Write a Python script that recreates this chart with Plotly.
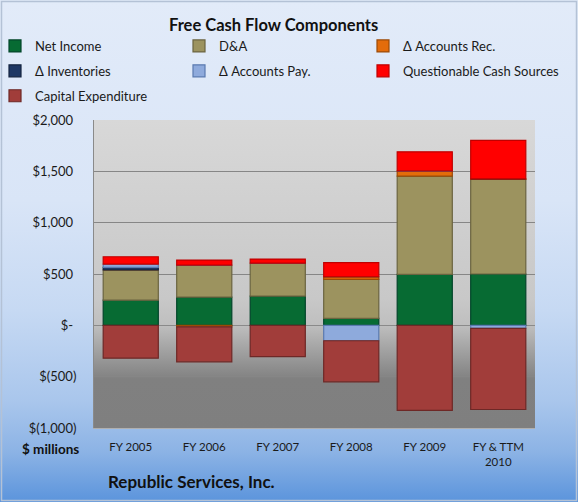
import base64
import plotly.graph_objects as go

# ---------------- data ($ millions) ----------------
categories = ["FY 2005", "FY 2006", "FY 2007", "FY 2008", "FY 2009", "FY & TTM<br>2010"]
net_income = [245, 275, 285, 68, 497, 500]
d_and_a = [295, 312, 320, 380, 957, 922]
accounts_rec = [0, -15, 0, 25, 51, 5]
inventories = [25, 0, 0, 0, 0, 0]
accounts_pay = [32, 0, 0, -150, 0, -30]
questionable = [71, 49, 40, 137, 185, 375]
capex = [-320, -340, -305, -400, -828, -790]

y_tickvals = [2000, 1500, 1000, 500, 0, -500, -1000]
y_ticktext = ["$2,000\u00a0", "$1,500\u00a0", "$1,000\u00a0", "$500\u00a0", "$-\u00a0", "$(500)", "$(1,000)"]

W, H = 578, 502
L, R, T, B = 94, 535, 120, 428  # plot area in pixels
PW, PH = R - L, B - T
FONT = "Lato, Carlito, Calibri, sans-serif"


def px(x):
    return (x - L) / PW


def py(y):
    return (B - y) / PH


def svg_uri(w, h, stops):
    st = "".join(f'<stop offset="{o}" stop-color="{c}"/>' for o, c in stops)
    svg = (f'<svg xmlns="http://www.w3.org/2000/svg" width="{w}" height="{h}" '
           f'viewBox="0 0 {w} {h}" preserveAspectRatio="none">'
           f'<defs><linearGradient id="g" x1="0" y1="0" x2="0" y2="1">{st}</linearGradient></defs>'
           f'<rect x="0" y="0" width="{w}" height="{h}" fill="url(#g)"/></svg>')
    return "data:image/svg+xml;base64," + base64.b64encode(svg.encode()).decode()


paper_bg = svg_uri(W, H, [(0, "#e2ebf9"), (0.40, "#d9e5f7"), (0.62, "#c6d9f3"),
                          (0.80, "#a9c6ec"), (0.90, "#8cb3e5"), (1, "#5b94dc")])
plot_bg = svg_uri(PW, PH, [(0, "#d8d8d8"), (0.58, "#c8c8c8"), (0.665, "#bfbfbf"),
                           (0.83, "#858585"), (0.84, "#808080"), (1, "#7f7f7f")])

series = [
    ("Net Income", net_income, "#076b33", "#03452a", "legend"),
    ("D&A", d_and_a, "#9c935f", "#6b6440", "legend2"),
    ("\u0394 Accounts Rec.", accounts_rec, "#e46c0a", "#9c4a06", "legend3"),
    ("\u0394 Inventories", inventories, "#1f3864", "#142440", "legend"),
    ("\u0394 Accounts Pay.", accounts_pay, "#8eaadc", "#5a7ab0", "legend2"),
    ("Questionable Cash Sources", questionable, "#ff0000", "#c00000", "legend3"),
    ("Capital Expenditure", capex, "#a13d3a", "#6e2826", "legend"),
]

fig = go.Figure()
for i, (name, vals, col, lcol, lg) in enumerate(series):
    fig.add_trace(go.Bar(
        x=categories, y=vals, name=name, legend=lg, legendgroup=f"g{i}",
        marker=dict(color=col, line=dict(color=lcol, width=1.2)),
    ))

legend_common = dict(
    orientation="v", xanchor="left", yanchor="top", bgcolor="rgba(0,0,0,0)",
    font=dict(family=FONT, size=13, color="#1a1a1a"), traceorder="grouped",
    tracegroupgap=5, itemwidth=30,
)

fig.update_layout(
    width=W, height=H,
    margin=dict(l=L, r=W - R, t=T, b=H - B, pad=0, autoexpand=False),
    paper_bgcolor="#dfe9f9", plot_bgcolor="rgba(0,0,0,0)",
    barmode="relative", bargap=0.25,
    showlegend=True,
    legend=dict(x=px(-5), y=py(31), **legend_common),
    legend2=dict(x=px(179), y=py(31), **legend_common),
    legend3=dict(x=px(363), y=py(31), **legend_common),
    xaxis=dict(
        type="category", showgrid=False, ticks="", ticklabelstandoff=8,
        tickfont=dict(family=FONT, size=11.5, color="#1a1a1a"),
        showline=True, linecolor="#b0b0b0", linewidth=1,
    ),
    yaxis=dict(
        range=[-1000, 2000], tickvals=y_tickvals, ticktext=y_ticktext,
        tickfont=dict(family=FONT, size=13, color="#1a1a1a"),
        ticks="", ticklabelstandoff=14,
        showgrid=True, gridcolor="#868686", gridwidth=1,
        zeroline=True, zerolinecolor="#8a8a8a", zerolinewidth=1,
        showline=True, linecolor="#8a8a8a", linewidth=1,
    ),
    images=[
        dict(source=paper_bg, xref="paper", yref="paper", x=px(0), y=py(0),
             sizex=W / PW, sizey=H / PH, xanchor="left", yanchor="top",
             sizing="stretch", layer="below"),
        dict(source=plot_bg, xref="paper", yref="paper", x=0, y=1,
             sizex=1, sizey=1, xanchor="left", yanchor="top",
             sizing="stretch", layer="below"),
    ],
    shapes=[
        dict(type="rect", xref="paper", yref="paper", x0=px(1.5), x1=px(576.5),
             y0=py(500.5), y1=py(1.5), line=dict(color="#b4c2d6", width=1.5),
             fillcolor="rgba(0,0,0,0)", layer="above"),
    ],
    annotations=[
        dict(text="<b>Free Cash Flow Components</b>", xref="paper", yref="paper",
             x=px(273), y=py(25), xanchor="center", yanchor="middle", showarrow=False,
             font=dict(family=FONT, size=16.5, color="#111111")),
        dict(text="<b>$ millions</b>", xref="paper", yref="paper",
             x=px(50), y=py(449), xanchor="center", yanchor="middle", showarrow=False,
             font=dict(family=FONT, size=13.5, color="#111111")),
        dict(text="<b>Republic Services, Inc.</b>", xref="paper", yref="paper",
             x=px(106), y=py(481), xanchor="left", yanchor="middle", showarrow=False,
             font=dict(family=FONT, size=17, color="#111111")),
    ],
)

fig.write_html(
    "out.html",
    config={"displayModeBar": False},
    post_script="document.body.style.margin='0';document.body.style.overflow='hidden';",
)
